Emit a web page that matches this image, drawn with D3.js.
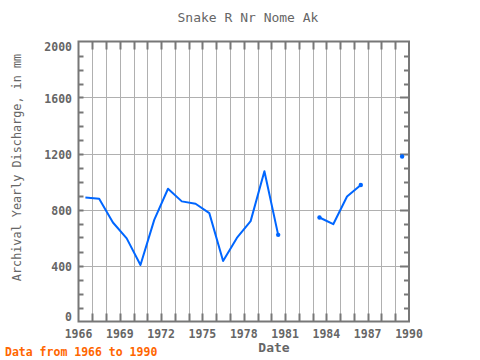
<!DOCTYPE html>
<html><head><meta charset="utf-8">
<script src="https://cdn.jsdelivr.net/npm/d3@7"></script>
<style>body{margin:0;background:#fff}</style>
</head><body>
<script>
const years = [1966,1967,1968,1969,1970,1971,1972,1973,1974,1975,1976,1977,1978,1979,1980,1981,1982,1983,1984,1985,1986,1987,1988,1989];
const discharge = [886,876,707,594,403,726,948,858,841,774,432,597,717,1073,619,null,null,743,695,893,975,null,null,1179];
const xTickLabels = [1966,1969,1972,1975,1978,1981,1984,1987,1990];
const yTickLabels = [0,400,800,1200,1600,2000];

const W=480,H=360;
const L=78.5,R=409,T=41.5,B=321.5;
const font="'DejaVu Sans Mono', monospace";
const svg=d3.select("body").append("svg").attr("width",W).attr("height",H);
const x=d3.scaleLinear().domain([1966,1990]).range([L,R]);
const y=d3.scaleLinear().domain([0,2000]).range([B,T]);

const grid=svg.append("g").attr("stroke","#b0b0b0").attr("stroke-width",1);
d3.range(1967,1990).forEach(v=>grid.append("line").attr("x1",Math.round(x(v))+0.5).attr("x2",Math.round(x(v))+0.5).attr("y1",T).attr("y2",B));
yTickLabels.slice(1,-1).forEach(v=>grid.append("line").attr("x1",L).attr("x2",R).attr("y1",Math.round(y(v))+0.5).attr("y2",Math.round(y(v))+0.5));

const tk=svg.append("g").attr("stroke","#777").attr("stroke-width",2);
d3.range(1967,1990).forEach(v=>{
  const xx=Math.round(x(v))+0.5;
  tk.append("line").attr("x1",xx).attr("x2",xx).attr("y1",B).attr("y2",B-8);
  tk.append("line").attr("x1",xx).attr("x2",xx).attr("y1",T).attr("y2",T+8);
});
d3.range(100,2000,100).forEach(v=>{
  const yy=Math.round(y(v))+0.5;
  const major=v%400===0;
  tk.append("line").attr("x1",L).attr("x2",L+5).attr("y1",yy).attr("y2",yy);
  tk.append("line").attr("x1",R).attr("x2",R-(major?9:5)).attr("y1",yy).attr("y2",yy);
});
svg.append("rect").attr("x",L).attr("y",T).attr("width",R-L).attr("height",B-T)
  .attr("fill","none").attr("stroke","#777").attr("stroke-width",2);

const data=years.map((yr,i)=>({yr,v:discharge[i]}));
const line=d3.line().defined(d=>d.v!=null).x(d=>x(d.yr+0.5)).y(d=>y(d.v));
svg.append("path").datum(data).attr("d",line).attr("fill","none")
  .attr("stroke","#0066ff").attr("stroke-width",2).attr("stroke-linejoin","round");
const ends=data.filter((d,i)=>d.v!=null&&((i>0&&data[i-1].v==null)||(i<data.length-1&&data[i+1].v==null)||i===data.length-1));
svg.append("g").selectAll("circle").data(ends).join("circle")
  .attr("cx",d=>x(d.yr+0.5)).attr("cy",d=>y(d.v)).attr("r",2.2).attr("fill","#0066ff");

const tx=svg.append("g").attr("font-family",font).attr("fill","#666").attr("font-size","11.5px").attr("font-weight","bold");
xTickLabels.forEach(v=>tx.append("text").attr("x",x(v)).attr("y",337.5).attr("text-anchor","middle").text(v));
yTickLabels.forEach(v=>{
  const off = v===2000 ? 9 : (v===0 ? -1 : 5);
  tx.append("text").attr("x",72).attr("y",y(v)+off).attr("text-anchor","end").text(v);
});

svg.append("text").attr("x",248).attr("y",22).attr("text-anchor","middle").attr("font-family",font)
  .attr("font-size","13px").attr("fill","#666").text("Snake R Nr Nome Ak");
svg.append("text").attr("x",274).attr("y",352).attr("text-anchor","middle").attr("font-family",font)
  .attr("font-size","13px").attr("font-weight","bold").attr("fill","#666").text("Date");
svg.append("text").attr("transform","translate(21,167.5) rotate(-90)").attr("text-anchor","middle").attr("font-family",font)
  .attr("font-size","11.8px").attr("fill","#666").text("Archival Yearly Discharge, in mm");
svg.append("text").attr("x",5).attr("y",356).attr("font-family",font).attr("font-size","11.5px")
  .attr("font-weight","bold").attr("fill","#ff6600").text("Data from 1966 to 1990");
</script>
</body></html>
